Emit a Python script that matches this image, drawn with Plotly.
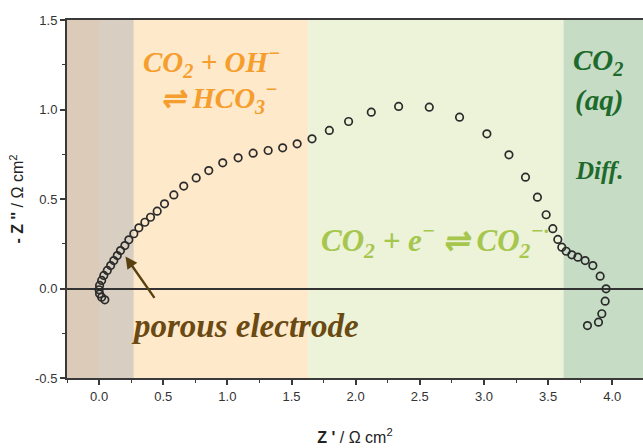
import plotly.graph_objects as go

# Nyquist data (Z', -Z'')
z_re = [0.045, 0.020, 0.004, 0.000, 0.004, 0.020, 0.037, 0.064, 0.090, 0.115,
        0.142, 0.167, 0.201, 0.232, 0.271, 0.310, 0.357, 0.401, 0.453, 0.510,
        0.583, 0.660, 0.757, 0.855, 0.964, 1.084, 1.201, 1.318, 1.431, 1.544,
        1.660, 1.795, 1.945, 2.122, 2.335, 2.574, 2.810, 3.023, 3.195, 3.324,
        3.417, 3.485, 3.537, 3.576, 3.607, 3.641, 3.685, 3.732, 3.789, 3.849,
        3.906, 3.952, 3.945, 3.919, 3.893, 3.807]
z_im = [-0.063, -0.049, -0.030, -0.007, 0.017, 0.045, 0.073, 0.101, 0.128, 0.156,
        0.184, 0.212, 0.240, 0.272, 0.306, 0.339, 0.370, 0.398, 0.432, 0.473,
        0.523, 0.572, 0.618, 0.659, 0.702, 0.730, 0.756, 0.771, 0.786, 0.808,
        0.836, 0.883, 0.933, 0.985, 1.017, 1.013, 0.957, 0.864, 0.747, 0.622,
        0.510, 0.412, 0.334, 0.274, 0.231, 0.208, 0.188, 0.175, 0.156, 0.128,
        0.069, -0.002, -0.071, -0.141, -0.188, -0.207]

# process regions along Z'
band_start = [-0.25, 0.0, 0.27, 1.63, 3.62]
band_end = [0.27, 0.27, 1.63, 3.62, 4.3]
band_color = ["#dccbb8", "#d8cec2", "#fee9cb", "#ecf3d9", "#c6dcc5"]

x_range = [-0.25, 4.24]
y_range = [-0.5, 1.5]
y_tickvals = [-0.5, 0.0, 0.5, 1.0, 1.5]
y_ticktext = ["-0.5", "0.0", "0.5", "1.0", "1.5"]
x_tickvals = [0.0, 0.5, 1.0, 1.5, 2.0, 2.5, 3.0, 3.5, 4.0]
x_ticktext = ["0.0", "0.5", "1.0", "1.5", "2.0", "2.5", "3.0", "3.5", "4.0"]

fig = go.Figure()
fig.add_trace(go.Scatter(
    x=z_re, y=z_im, mode="markers",
    marker=dict(symbol="circle", size=7.5, color="rgba(0,0,0,0)",
                line=dict(color="#2b2b2b", width=1.7)),
    showlegend=False, hoverinfo="skip"))

shapes = []
for x0, x1, c in zip(band_start, band_end, band_color):
    shapes.append(dict(type="rect", xref="x", yref="paper", x0=x0, x1=x1,
                       y0=0, y1=1, fillcolor=c, line=dict(width=0), layer="below"))

serif = "Liberation Serif"
orange = "#f59e2e"
dgreen = "#1d6a2c"
lgreen = "#a6c64e"
brown = "#6a4a12"

ann = [
    dict(x=0.88, y=1.263, text="<b><i>CO<sub>2</sub> + OH<sup>−</sup></i></b>",
         font=dict(family=serif, size=29, color=orange)),
    dict(x=0.94, y=1.065, text="<b><i>⇌ HCO<sub>3</sub><sup>−</sup></i></b>",
         font=dict(family=serif, size=29, color=orange)),
    dict(x=3.89, y=1.263, text="<b><i>CO<sub>2</sub></i></b>",
         font=dict(family=serif, size=29, color=dgreen)),
    dict(x=3.90, y=1.05, text="<b><i>(aq)</i></b>",
         font=dict(family=serif, size=29, color=dgreen)),
    dict(x=3.90, y=0.66, text="<b><i>Diff.</i></b>",
         font=dict(family=serif, size=25, color=dgreen)),
    dict(x=2.62, y=0.268, text="<b><i>CO<sub>2</sub> + e<sup>−</sup> ⇌ CO<sub>2</sub><sup>−·</sup></i></b>",
         font=dict(family=serif, size=31, color=lgreen)),
    dict(x=1.14, y=-0.207, text="<b><i>porous electrode</i></b>",
         font=dict(family=serif, size=33, color=brown)),
]
annotations = []
for a in ann:
    a.update(xref="x", yref="y", showarrow=False, xanchor="center", yanchor="middle")
    annotations.append(a)

annotations.append(dict(x=0.206, y=0.179, ax=0.44, ay=-0.061, xref="x", yref="y",
                        axref="x", ayref="y", text="", showarrow=True,
                        arrowhead=2, arrowsize=1.0, arrowwidth=2.4,
                        arrowcolor="#5a4010"))

fig.update_layout(
    width=643, height=448,
    margin=dict(l=67, r=0, t=20, b=70, autoexpand=False),
    paper_bgcolor="white", plot_bgcolor="white",
    shapes=shapes, annotations=annotations,
    font=dict(family="Liberation Sans Narrow, Liberation Sans", size=12, color="#333333"),
    xaxis=dict(range=x_range, showgrid=False, zeroline=False, automargin=False,
               showline=True, linecolor="#3a3a3a", linewidth=2, mirror=True,
               ticks="outside", ticklen=5, tickwidth=1.5, tickcolor="#3a3a3a",
               tickvals=x_tickvals, ticktext=x_ticktext,
               minor=dict(dtick=0.25, tick0=0, ticks="outside", ticklen=3,
                          tickwidth=1.2, tickcolor="#3a3a3a"),
               tickfont=dict(size=13, color="#333333"),
               title=dict(text="<b>Z '</b> / Ω cm<sup>2</sup>",
                          font=dict(family="Liberation Sans", size=16, color="#222222"),
                          standoff=29)),
    yaxis=dict(range=y_range, showgrid=False, automargin=False,
               zeroline=True, zerolinecolor="#333333", zerolinewidth=1.6,
               showline=True, linecolor="#3a3a3a", linewidth=2,
               ticks="outside", ticklen=5, tickwidth=1.5, tickcolor="#3a3a3a",
               tickvals=y_tickvals, ticktext=y_ticktext,
               minor=dict(dtick=0.25, tick0=0, ticks="outside", ticklen=3,
                          tickwidth=1.2, tickcolor="#3a3a3a"),
               tickfont=dict(size=13, color="#333333"),
               title=dict(text="<b>- Z ''</b> / Ω cm<sup>2</sup>",
                          font=dict(family="Liberation Sans", size=16, color="#222222"),
                          standoff=7)),
)

# remove the default page margin so the 643x448 figure fills the window exactly
fig.write_html("out.html",
               config={"displayModeBar": False},
               post_script="document.body.style.margin='0';"
                           "document.body.style.overflow='hidden';")
